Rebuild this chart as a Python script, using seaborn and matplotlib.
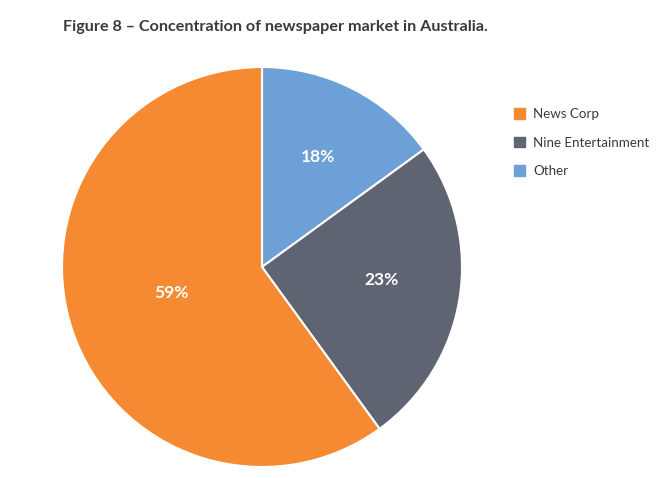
import numpy as np
import matplotlib
matplotlib.use("Agg")
import matplotlib.pyplot as plt
import seaborn as sns

# wedge sizes as drawn, and the labels printed on them
owners = ["News Corp", "Nine Entertainment", "Other"]
shares = [60, 25, 15]
share_labels = ["59%", "23%", "18%"]
colors = ["#F58A33", "#5E6472", "#6CA0D6"]

sns.set_theme(style="white")
plt.rcParams["font.family"] = ["Lato", "DejaVu Sans"]

fig = plt.figure(figsize=(6.59, 4.78), dpi=100)
ax = fig.add_axes([62 / 659, 11 / 478, 400 / 659, 400 / 478])

# draw Other first so it starts at 12 o'clock and runs clockwise
order = [2, 1, 0]
wedges, texts = ax.pie(
    [shares[i] for i in order],
    colors=[colors[i] for i in order],
    startangle=90,
    counterclock=False,
    radius=1.0,
    wedgeprops={"edgecolor": "white", "linewidth": 1.5},
)
ax.set_xlim(-1, 1)
ax.set_ylim(-1, 1)
ax.set_aspect("equal")

# (radius, angle shift in degrees) for each label
label_pos = {0: (0.47, -2), 1: (0.60, 3), 2: (0.62, 0)}
for w, i in zip(wedges, order):
    r, shift = label_pos[i]
    mid = np.deg2rad((w.theta1 + w.theta2) / 2 + shift)
    ax.text(r * np.cos(mid), r * np.sin(mid), share_labels[i],
            ha="center", va="center", color="white",
            fontsize=12.5, fontweight="bold")

fig.text(63 / 659, 1 - 27 / 478,
         "Figure 8 \u2013 Concentration of newspaper market in Australia.",
         ha="left", va="center", fontsize=11.6, fontweight="bold",
         color="#3A3A3A")

handles = [plt.Rectangle((0, 0), 1, 1, color=c) for c in colors]
fig.legend(handles, owners, loc="upper left",
           bbox_to_anchor=(502 / 659, 1 - 96 / 478),
           frameon=False, fontsize=9.6, handlelength=0.85, handleheight=0.85,
           handletextpad=0.6, labelspacing=1.25, labelcolor="#3A3A3A")

fig.savefig("out.png", dpi=100)
